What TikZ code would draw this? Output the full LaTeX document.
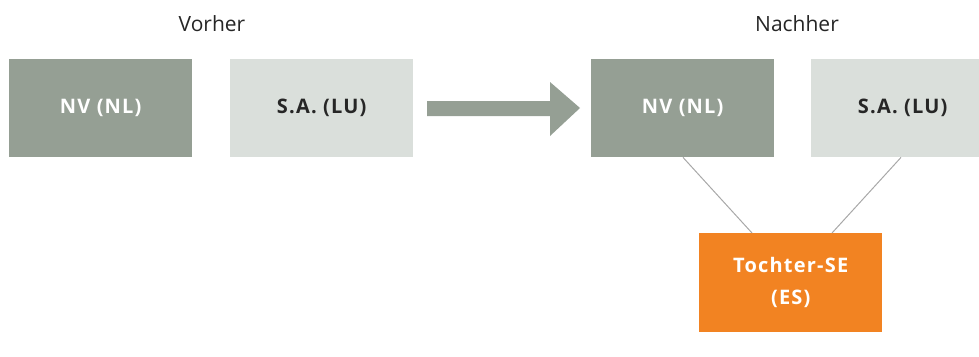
\documentclass[tikz,border=0pt]{standalone}
\usepackage{fontspec}
\usetikzlibrary{calc}
\setmainfont{Open Sans}
\newfontfamily\boxfont[LetterSpace=6]{Open Sans}
\definecolor{dkbox}{HTML}{959F94}
\definecolor{ltbox}{HTML}{DADFDB}
\definecolor{orbox}{HTML}{F28322}
\definecolor{lnk}{HTML}{A8A8A8}
\begin{document}
\begin{tikzpicture}[x=1pt,y=-1pt,
  box/.style={rectangle,minimum width=183pt,minimum height=98pt,inner sep=0pt,anchor=north west,
     font=\boxfont\fontsize{20}{32}\selectfont\bfseries,align=center},
  dark/.style={box,fill=dkbox,text=white},
  light/.style={box,fill=ltbox,text=black!85},
  orange/.style={box,fill=orbox,text=white},
  head/.style={font=\fontsize{21}{24}\selectfont,text=black!85},
  link/.style={draw=lnk,line width=1pt}]
\useasboundingbox (0,0) rectangle (979,356);
\node[head] (vorher) at (212,24) {Vorher};
\node[head] (nachher) at (797,24) {Nachher};
\node[dark] (nv1) at (9,59) {NV (NL)};
\node[light] (sa1) at (230,59) {S.A. (LU)};
\node[dark] (nv2) at (591,59) {NV (NL)};
\node[light] (sa2) at (811,59) {S.A. (LU)};
\node[orange,minimum height=99pt] (se) at (699,233) {Tochter-SE\\(ES)};
\fill[dkbox] (427,101) -- (550,101) -- (550,82) -- (580,108) -- (550,136) -- (550,116) -- (427,116) -- cycle;
\draw[link] ($(nv2.south west)+(92,0)$) -- ($(se.north west)+(53,0)$);
\draw[link] ($(sa2.south west)+(90,0)$) -- ($(se.north west)+(133,0)$);
\end{tikzpicture}
\end{document}
